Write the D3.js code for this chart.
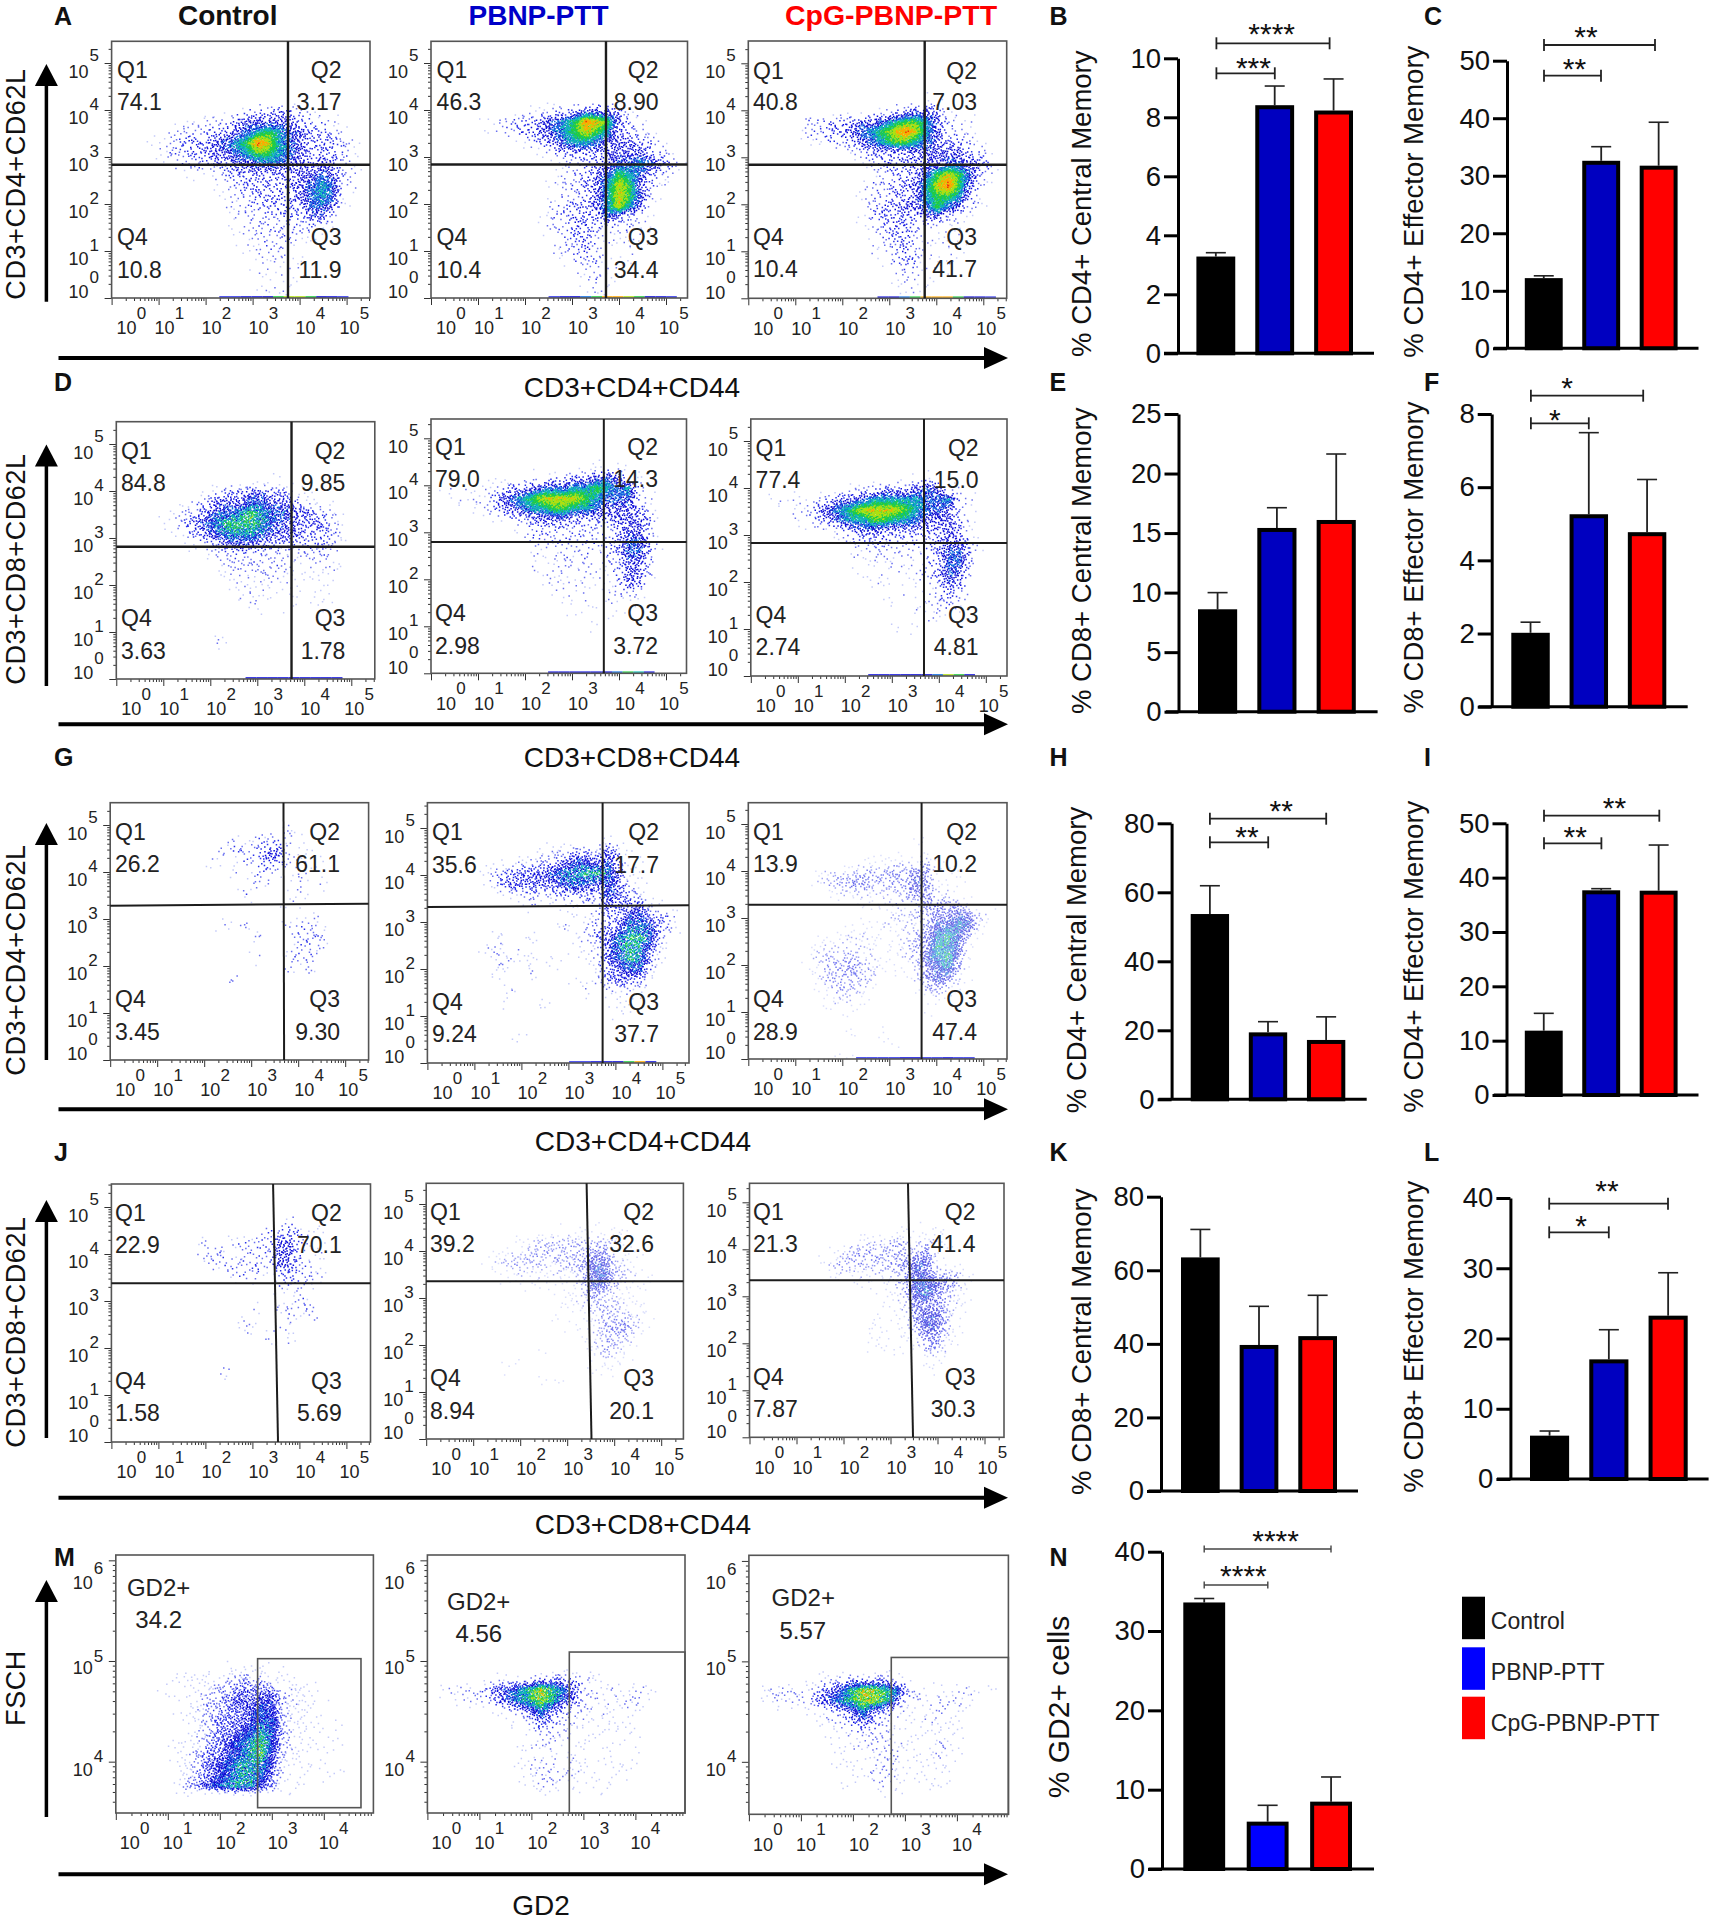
<!DOCTYPE html>
<html><head><meta charset="utf-8">
<script src="https://cdn.jsdelivr.net/npm/d3@7"></script>
<style>html,body{margin:0;background:#fff}svg{display:block}text{font-family:"Liberation Sans",Arial,sans-serif}</style>
</head><body><svg id="c" width="1713" height="1920" viewBox="0 0 1713 1920"></svg>
<script>
// ---------- bar chart values ----------
const groups = ["Control","PBNP-PTT","CpG-PBNP-PTT"];
const valB=[3.28,8.41,8.23], errB=[3.41,9.06,9.3];
const valC=[12.2,32.6,31.75], errC=[12.6,35.05,39.3];
const valE=[8.6,15.43,16.1], errE=[10,17.13,21.64];
const valF=[2.02,5.26,4.77], errF=[2.31,7.49,6.21];
const valH=[53.7,19.4,17.2], errH=[61.9,22.5,23.9];
const valI=[11.84,37.67,37.6], errI=[15.03,37.97,46.0];
const valK=[63.5,39.7,42.1], errK=[71.1,50.2,53.2];
const valL=[6.17,17.03,23.25], errL=[6.83,21.25,29.36];
const valN=[33.6,5.97,8.49], errN=[34.1,8.03,11.6];
// ---------- quadrant percentages ----------
const pctA=[["74.1","3.17","11.9","10.8"],["46.3","8.90","34.4","10.4"],["40.8","7.03","41.7","10.4"]];
const pctD=[["84.8","9.85","1.78","3.63"],["79.0","14.3","3.72","2.98"],["77.4","15.0","4.81","2.74"]];
const pctG=[["26.2","61.1","9.30","3.45"],["35.6","17.7","37.7","9.24"],["13.9","10.2","47.4","28.9"]];
const pctJ=[["22.9","70.1","5.69","1.58"],["39.2","32.6","20.1","8.94"],["21.3","41.4","30.3","7.87"]];
const pctM=["34.2","4.56","5.57"];
// ---------- density maps (0 empty .. 9 hottest); rows from top, first row index given ----------
const dA1=[6,"000000000001223332100000","000000111223444443221000","000011222334567654332100","000112333456798654333210","000012233445677654333210","000001222334455544343210","000000011123333334454210","000000000112333334565210","000000000012233334565100","000000000011223333554100","000000000001222232441000","000000000001122222211000","000000000001122221100000","000000000000112211000000","000000000000011211000000","000000000000011111000000","000000000000001110000000","000000000000011110000000"];
const dA2=[5,"000000000000000100000000","000000000112234443110000","000011223345679874210000","000001123345678763321000","000000001234566544433100","000000000012333344443210","000000000000122345565431","000000000001223457653210","000000000001223468742100","000000000001223468752100","000000000012233468641000","000000000012233353211000","000000000012233212211000","000000000001233211110000","000000000001223211110000","000000000000122211100000","000000000000011211000000","000000000000001210000000","000000000000001110000000"];
const dA3=[5,"000000000000000011000000","000000000001123443110000","000002233344567764211000","000012233456789864221000","000001122345677654332100","000000000123333444443210","000000000012333344554420","000000000001223357875210","000000000012233468974200","000000000012233467763100","000000000012334457542100","000000000012333334211000","000000000001233211110000","000000000001233211110000","000000000001123211110000","000000000000123211110000","000000000000012211100000","000000000000011110000000","000000000000001100000000"];
const dD1=[5,"000000000000001000000000","000000001233443311100000","000000123444554431110000","000011234556765544321000","000012345677765443432000","000001234566654443332000","000000112344433332331000","000000001222222212221000","000000000122222211121000","000000000112122111111000","000000000011111110110000","000000000001211010110000","000000000000110010100000","000000000000000100000000","000000000000000000000000","000000000200000000000000"];
const dD2=[4,"000000000000000111000000","000000000112233454110000","011111233455566765621000","011112456788887655521000","000112345667766544431000","000000122344433334443000","000000001222222213442000","000000001222222223553000","000000000111212123553100","000000000111212122442000","000000000112112112442000","000000000011111112431000","000000000001101012210000","000000000000111011100000","000000000000010110000000","000000000000000100000000"];
const dD3=[5,"000000000000000111000000","000000000122333454110000","011111234456666655621000","000112456788887655421000","000012345667766544431000","000000012344333333431000","000000001222322223442000","000000000112212123553100","000000000111111123552000","000000000011111123541000","000000000001101112431000","000000000000101012321000","000000000000010112210000","000000000000000111000000","000000000000010100000000"];
const dG1=[2,"000000000000000020000000","000000000002022211000000","000000000022224411100000","000000000200223321110000","000000000002022101100000","000000000000022002020000","000000000000200011000000","000000000000000011100000","000000000000000000020000","000000000020200022210000","000000000000020002220000","000000000000000002220000","000000000000020022200000","000000000000000020200000","000000000002000000000000"];
const dG2=[3,"000000000000000020000000","000000000012233243100000","000000012233455453110000","000002334445667764110000","000001344444565454210000","000000122323333354320000","000000000200112243442100","000000000000111233553320","000000000000202334665320","000000200200012346775200","000002202000011246764100","000000220202001245763100","000000200200000234552000","000000000000011234331000","000000020000002021210000","000000200020000011100000","000000000000000002000000","000000000000000000000000","000000002000000000000000"];
const dG3=[3,"000000000000000100000000","000000000000000010000000","000000000011122231100000","000000122233343441110000","000000233443333541110000","000000012222223442200000","000000000011122244331000","000000000011122334454210","000000001111222235565200","000000111222112346753000","000000222221112347651000","000001233322112356741000","000001233432111245631000","000000233332001245421000","000000123321000133210000","000000012210000011000000","000000011100000010000000","000000000000000000000000","000000000100100000000000","000000000000110000000000","000000001100000000000000"];
const dJ1=[3,"000000000000000020000000","000000000000012232110000","000000002002222442110000","000000002220222442110000","000000000222222442110000","000000000002220232210000","000000000000000222100000","000000000000000002000000","000000000000020222200000","000000000000200020200000","000000000000200200000000","000000000000002020000000","000000000000000000000000","000000000000000000000000","000000000020000000000000"];
const dJ2=[4,"000000000001111111100000","000000001233333332100000","000000122333333442110000","000001233332334553210000","000000112222223563321000","000000011111113553211000","000000000000112432110000","000000000000122333211000","000000000001101233321000","000000000000101234431000","000000000000001233310000","000000000010000233210000","000000001000000122100000","000000010000000111000000","000000000010100010000000"];
const dJ3=[4,"000000000000001111000000","000000000122233132100000","000000012333333342100000","000000123333334552110000","000000012222233553331000","000000000111123565431000","000000000000113564321000","000000000000112444321000","000000000000112455310000","000000000002101355310000","000000000001112244210000","000000000001110134210000","000000000000001012100000","000000000000000011000000"];
const dM1=[10,"000000000011111100000000","000001122233331111000000","000011122334444221100000","000001123345455322110000","000001123344565322100000","000000123444566322101000","000000123445676321110000","000001123456786321111000","000001234456785321110000","000000234567775211110000","000001234567764211011000","000001345677754111000000"];
const dM2=[11,"000000111233332100000000","012223456787642212121000","001222456787542211221000","000000123464322121110000","000000011243221111100000","000000000122211111110000","000000000122111111010000","000000001111111011010000","000000001222121111110000","000000001122221101100000","000000000122111110000000"];
const dM3=[11,"000000122333321000000000","112222345788763211112010","012222456788752212221000","000001123464321112110000","000000122343211121110000","000000011222211111110000","000000011122221112100000","000000011111221112110000","000000001112211111100000","000000000112221111100000","000000001001211011000000"];
// on-axis events along the lower edge
const edgeA1="000000000011223677632100",edgeA2="000000000001234688763210",edgeA3="000000000000234688863210",edgeD1="000000000000222222222000",edgeD2="000000000002222234652000",edgeD3="000000000002223334762000",edgeG2="000000000000011223682000",edgeG3="000000000011112211211000",edgeNone="000000000000000000000000";

const svg=d3.select("#c");
const INK="#222";
const levelAcc=[0,.02,.045,.085,.17,.34,.7,1,1,1];
const palette=["#c4caf9","#6a70f0","#2a30ea","#1010dc","#0808d0","#0a6ae0","#08b8b0","#20cc40","#b0e010","#ffa800","#f03000"];
function colorIndex(d){ return Math.max(0,Math.min(10,Math.round(d))); }
function halton(i,b){let f=1,r=0;while(i>0){f/=b;r+=f*(i%b);i=Math.floor(i/b);}return r;}
function sampler(g){
  const start=g[0],rows=g.slice(1);
  const at=(r,c)=>{const s=rows[r-start];if(!s||c<0||c>23)return 0;return +s[c]||0;};
  return (u,v)=>{
    const x=u*24-.5,y=v*24-.5,x0=Math.floor(x),y0=Math.floor(y),fx=x-x0,fy=y-y0;
    return at(y0,x0)*(1-fx)*(1-fy)+at(y0,x0+1)*fx*(1-fy)+at(y0+1,x0)*(1-fx)*fy+at(y0+1,x0+1)*fx*fy;
  };
}
function txt(s,x,y,size,opt={}){
  return svg.append("text").attr("x",x).attr("y",y).attr("font-size",size)
   .attr("text-anchor",opt.anchor||"start").attr("font-weight",opt.weight||"normal")
   .attr("fill",opt.fill||"#111").text(s);
}
function vtxt(s,x,cy,size,ls){
  svg.append("text").attr("transform",`translate(${x},${cy}) rotate(-90)`).attr("font-size",size)
   .attr("text-anchor","middle").attr("fill","#111").attr("dy",".36em").attr("letter-spacing",ls||0).text(s);
}
function ctext(g,s,x,cy,size,anchor){
  g.append("text").attr("x",x).attr("y",cy).attr("dy",".36em").attr("font-size",size)
   .attr("text-anchor",anchor||"start").attr("fill",INK).text(s);
}
function minorTicks(minDec,maxDec){
  const out=[];
  for(let k=Math.floor(minDec);k<=Math.ceil(maxDec);k++)for(let m=1;m<10;m++){
    const v=m*Math.pow(10,k),l=Math.log10(v);
    if(l>=minDec-1e-6&&l<=maxDec+1e-6)out.push(v);
  }
  return out;
}
svg.append("defs").append("filter").attr("id","soft").append("feGaussianBlur").attr("stdDeviation",.42);

function flowFrame(b,xs,ys){
  const [x0,y0,x1,y1]=b;
  const g=svg.append("g");
  const isMajor=v=>Math.abs(Math.log10(v)-Math.round(Math.log10(v)))<1e-6;
  const ax=g.append("g").attr("transform",`translate(0,${y1})`)
    .call(d3.axisBottom(xs).tickValues(minorTicks(0,Math.log10(xs.domain()[1]))).tickFormat("").tickSize(3));
  const ay=g.append("g").attr("transform",`translate(${x0},0)`)
    .call(d3.axisLeft(ys).tickValues(minorTicks(Math.log10(ys.domain()[0]),Math.log10(ys.domain()[1]))).tickFormat("").tickSize(3));
  ax.select(".domain").remove();ay.select(".domain").remove();
  ax.selectAll("line").attr("stroke","#333").attr("y2",d=>isMajor(d)?7:3);
  ay.selectAll("line").attr("stroke","#333").attr("x2",d=>isMajor(d)?-7:-3);
  return g;
}
function dots(b,xs,ys,dx,dy,grid,seed,op,grain,cool){
  const [x0,y0,x1,y1]=b, f=sampler(grid), w=x1-x0, h=y1-y0;
  const N=Math.round(w*h*1.05), buckets=d3.range(11).map(()=>[]);
  const yMin=Math.log10(ys.domain()[0]);
  for(let i=1;i<=N;i++){
    const k=i+seed*4099;
    const u=halton(k,2),v=halton(k,3);
    const d=f(u,v);
    if(d<.15)continue;
    const t=halton(k,5),lo=Math.floor(d),fr=d-lo;
    let acc=levelAcc[lo]*(1-fr)+(levelAcc[lo+1]===undefined?1:levelAcc[lo+1])*fr;
    acc=Math.min(acc,grain);
    if(t>acc)continue;
    const jitter=(halton(k,7)-.5)*(d>4?(grain<1?3:1.9):1.1);
    const shade=d<6?d-.6:d-.6+(d-6)*.25;
    const c=colorIndex(shade+jitter-cool);
    buckets[c].push([xs(Math.pow(10,u*dx)),ys(Math.pow(10,yMin+(1-v)*dy))]);
  }
  const g=svg.append("g").attr("filter","url(#soft)").attr("opacity",op);
  g.selectAll("path").data(buckets.map((p,i)=>({p,i})).filter(e=>e.p.length)).join("path")
   .attr("fill","none").attr("stroke-width",1.5).attr("stroke",e=>palette[e.i])
   .attr("d",e=>e.p.map(q=>`M${q[0].toFixed(1)} ${q[1].toFixed(1)}h1.5`).join(""));
}
function edgeStrip(b,xs,dx,edge){
  const y1=b[3];
  const cells=[...edge].map((c,i)=>({l:+c,i})).filter(e=>e.l>0);
  svg.append("g").selectAll("rect").data(cells).join("rect")
   .attr("x",e=>xs(Math.pow(10,e.i/24*dx))).attr("width",e=>xs(Math.pow(10,(e.i+1)/24*dx))-xs(Math.pow(10,e.i/24*dx)))
   .attr("y",y1-2).attr("height",2).attr("fill",e=>palette[e.l+1]).attr("opacity",.8);
}
function tickLabels(b,xs,ys,xDecs,xOff,yDecs,yOff,supOff){
  const [x0,y0,x1,y1]=b,g=svg.append("g");
  xDecs.forEach((k,i)=>{
    const cx=xs(Math.pow(10,k))+xOff[i];
    ctext(g,"10",cx,y1+30,18,"middle");
    ctext(g,String(k),cx+15,y1+15,17,"middle");
  });
  yDecs.forEach((k,i)=>{
    const ty=ys(Math.pow(10,k));
    ctext(g,"10",x0-23,ty+yOff[i],18,"end");
    ctext(g,String(k),x0-22,ty+supOff[i],17,"start");
  });
}
const Dec=47;
function quadPanel(p){
  const b=p.box,[x0,y0,x1,y1]=b,dx=(x1-x0)/Dec,dy=(y1-y0)/Dec;
  const xs=d3.scaleLog().domain([1,Math.pow(10,dx)]).range([x0,x1]);
  const ys=d3.scaleLog().domain([1,Math.pow(10,dy)]).range([y1,y0]);
  dots(b,xs,ys,dx,dy,p.grid,p.seed,p.op||1,p.grain||1,p.cool||0);
  edgeStrip(b,xs,dx,p.edge);
  flowFrame(b,xs,ys);
  svg.append("rect").attr("x",x0).attr("y",y0).attr("width",x1-x0).attr("height",y1-y0)
    .attr("fill","none").attr("stroke","#555").attr("stroke-width",1.6);
  const gate=svg.append("g").attr("stroke","#1c1c1c").attr("stroke-width",p.gw||2);
  gate.append("line").attr("x1",xs(Math.pow(10,p.gx[0]))).attr("x2",xs(Math.pow(10,p.gx[1]))).attr("y1",y0).attr("y2",y1);
  gate.append("line").attr("x1",x0).attr("x2",x1).attr("y1",ys(Math.pow(10,p.gy[0]))).attr("y2",ys(Math.pow(10,p.gy[1])));
  tickLabels(b,xs,ys,[0,1,2,3,4,5],[15,6,6,6,6,3],[0,1,2,3,4,5],[-6,7.5,7.5,7.5,7.5,8.5],[-21,-6,-6,-6,-6,-8]);
  const g=svg.append("g"),L=p.left,R=p.right,[a,c,d,e]=p.ty,fs=23;
  ctext(g,"Q1",L,a,fs);ctext(g,"Q2",R,a,fs,"end");
  ctext(g,p.pct[0],L,c,fs);ctext(g,p.pct[1],R,c,fs,"end");
  ctext(g,"Q4",L,d,fs);ctext(g,"Q3",R,d,fs,"end");
  ctext(g,p.pct[3],L,e,fs);ctext(g,p.pct[2],R,e,fs,"end");
}
const quadPanels=[
 {box:[111.6,41.3,370,298],grid:dA1,edge:edgeA1,gx:[3.753,3.753],gy:[2.836,2.836],pct:pctA[0],left:117,right:341.5,ty:[70,102,237,270],gw:2.4},
 {box:[431,41.3,687.5,298],grid:dA2,edge:edgeA2,gx:[3.723,3.723],gy:[2.84,2.84],pct:pctA[1],left:436.6,right:658.5,ty:[70,102,237,270],gw:2.4},
 {box:[748.3,41,1006.7,298.3],grid:dA3,edge:edgeA3,gx:[3.753,3.753],gy:[2.843,2.843],pct:pctA[2],left:753,right:977,ty:[70.7,102,237,269],gw:2.4},
 {box:[116.3,421.7,374.8,679],grid:dD1,edge:edgeD1,gx:[3.728,3.728],gy:[2.815,2.815],pct:pctD[0],left:121,right:345.4,ty:[450.7,483,618,651],gw:2.4,grain:.5,cool:.3},
 {box:[431,419,686.5,673.3],grid:dD2,edge:edgeD2,gx:[3.677,3.677],gy:[2.794,2.794],pct:pctD[1],left:435,right:658,ty:[447,479,613,645.7]},
 {box:[750.8,419,1007,676],grid:dD3,edge:edgeD3,gx:[3.685,3.685],gy:[2.83,2.83],pct:pctD[2],left:755.6,right:978.6,ty:[448,480,615,647]},
 {box:[110.2,802.7,368.6,1060],grid:dG1,edge:edgeNone,gx:[3.687,3.7],gy:[3.283,3.326],pct:pctG[0],left:115,right:340,ty:[831.7,864,999,1031.7]},
 {box:[427.4,802.7,689,1063],grid:dG2,edge:edgeG2,gx:[3.728,3.728],gy:[3.32,3.355],pct:pctG[1],left:432,right:659,ty:[832,864.7,1001.7,1034],grain:.38,cool:.6},
 {box:[748.3,802.7,1007,1059],grid:dG3,edge:edgeG3,gx:[3.687,3.687],gy:[3.283,3.283],pct:pctG[2],left:753,right:977,ty:[831.7,864,999,1031.7],op:.62,grain:.55,cool:.7},
 {box:[111.4,1184,370.5,1442],grid:dJ1,edge:edgeNone,gx:[3.44,3.545],gy:[3.377,3.377],pct:pctJ[0],left:115,right:341.7,ty:[1212.7,1245,1380.7,1413]},
 {box:[426.2,1183.3,683.4,1439],grid:dJ2,edge:edgeNone,gx:[3.413,3.517],gy:[3.355,3.355],pct:pctJ[1],left:430,right:654,ty:[1211.7,1244,1378,1410.7],op:.62,grain:.4,cool:1},
 {box:[749.5,1183.3,1004,1437.3],grid:dJ3,edge:edgeNone,gx:[3.372,3.479],gy:[3.34,3.34],pct:pctJ[2],left:753,right:975.5,ty:[1211.7,1244,1376.7,1409],op:.7,grain:.4,cool:1}
];
quadPanels.forEach((p,i)=>quadPanel({...p,seed:i+1}));

function gd2Panel(p){
  const b=p.box,[x0,y0,x1,y1]=b,dx=(x1-x0)/52;
  const xs=d3.scaleLog().domain([1,Math.pow(10,dx)]).range([x0,x1]);
  const ys=d3.scaleLog().domain(p.yDom.map(e=>Math.pow(10,e))).range([y1,y0]);
  dots(b,xs,ys,dx,p.yDom[1]-p.yDom[0],p.grid,p.seed,1,p.grain,p.cool);
  flowFrame(b,xs,ys);
  svg.append("rect").attr("x",x0).attr("y",y0).attr("width",x1-x0).attr("height",y1-y0)
    .attr("fill","none").attr("stroke","#555").attr("stroke-width",1.6);
  const gl=xs(Math.pow(10,p.gate[0])),gr=p.gate[1]?xs(Math.pow(10,p.gate[1])):x1,
        gt=ys(Math.pow(10,p.gate[2])),gb=p.gate[3]?ys(Math.pow(10,p.gate[3])):y1;
  svg.append("rect").attr("x",gl).attr("y",gt).attr("width",gr-gl).attr("height",gb-gt)
    .attr("fill","none").attr("stroke","#555").attr("stroke-width",1.6);
  tickLabels(b,xs,ys,[0,1,2,3,4],[14,5,6,6,5],[4,5,6],[7.5,7,21.7],[-5.5,-5,8]);
  const g=svg.append("g");
  ctext(g,"GD2+",p.t[0],p.t[1],24);
  ctext(g,p.pct,p.t[2],p.t[3],24);
}
[
 {box:[115.8,1555,373.4,1813],grid:dM1,yDom:[3.49,6.053],gate:[2.727,4.715,5.023,3.543],pct:pctM[0],t:[126.9,1587,135.3,1619],grain:.5,cool:1.3},
 {box:[427.4,1555,685,1813],grid:dM2,yDom:[3.49,6.053],gate:[2.729,0,5.089,0],pct:pctM[1],t:[447,1601,455.4,1633],grain:.6,cool:.5},
 {box:[748.9,1555.3,1008.4,1814.3],grid:dM3,yDom:[3.4775,6.056],gate:[2.738,0,5.039,0],pct:pctM[2],t:[771.6,1597,779.4,1630],grain:.6,cool:.5}
].forEach((p,i)=>gd2Panel({...p,seed:i+20}));

// ---------- bars ----------
function barPanel(p){
  const y=d3.scaleLinear().domain([0,p.max]).range([p.y0,p.yt]);
  const x=d3.scaleBand().domain(groups).range([p.b0,p.b1]).paddingInner(.34).paddingOuter(0);
  const g=svg.append("g");
  const sw=4, fills=[ "#000", p.blue||"#0000c0", "#ff0000"];
  const rows=groups.map((k,i)=>({k,i,v:p.val[i],e:p.err[i]}));
  g.selectAll(".stem").data(rows).join("line").attr("class","stem")
   .attr("x1",d=>x(d.k)+x.bandwidth()/2).attr("x2",d=>x(d.k)+x.bandwidth()/2)
   .attr("y1",d=>y(d.v)).attr("y2",d=>y(d.e)).attr("stroke","#222").attr("stroke-width",1.8);
  g.selectAll(".cap").data(rows).join("line").attr("class","cap")
   .attr("x1",d=>x(d.k)+x.bandwidth()/2-10).attr("x2",d=>x(d.k)+x.bandwidth()/2+10)
   .attr("y1",d=>y(d.e)).attr("y2",d=>y(d.e)).attr("stroke","#222").attr("stroke-width",1.6);
  g.selectAll(".bar").data(rows).join("rect").attr("class","bar")
   .attr("x",d=>x(d.k)+sw/2).attr("width",x.bandwidth()-sw)
   .attr("y",d=>y(d.v)+sw/2).attr("height",d=>y(0)-y(d.v)-sw/2)
   .attr("fill",d=>fills[d.i]).attr("stroke","#000").attr("stroke-width",sw);
  const ax=g.append("g").attr("transform",`translate(${p.ax},0)`)
   .call(d3.axisLeft(y).tickValues(d3.range(0,p.max+1e-6,p.step)).tickSizeInner(14).tickSizeOuter(0).tickPadding(3).tickFormat(d3.format("d")));
  ax.selectAll("line").attr("stroke","#000").attr("stroke-width",3);
  ax.select(".domain").attr("stroke","#000").attr("stroke-width",3);
  ax.selectAll("text").attr("font-size",27.5).attr("font-family","Liberation Sans").attr("fill","#111");
  g.append("line").attr("x1",p.bl[0]).attr("x2",p.bl[1]).attr("y1",y(0)).attr("y2",y(0)).attr("stroke","#000").attr("stroke-width",3);
  vtxt(p.title,p.tx,p.ty,p.tfs||27.5);
  (p.sig||[]).forEach(s=>{
    const sg=svg.append("g").attr("stroke",p.sigColor||"#222").attr("stroke-width",p.sigW||1.8);
    const h=p.sigH||6;
    sg.append("line").attr("x1",s.a).attr("x2",s.b).attr("y1",s.y).attr("y2",s.y);
    sg.append("line").attr("x1",s.a).attr("x2",s.a).attr("y1",s.y-h).attr("y2",s.y+h);
    sg.append("line").attr("x1",s.b).attr("x2",s.b).attr("y1",s.y-h).attr("y2",s.y+h);
    txt(s.s,s.cx,s.cy+16,30,{anchor:"middle",fill:"#111"});
  });
}
const barPanels=[
 {val:valB,err:errB,max:10,step:2,y0:353.3,yt:58.3,ax:1178,b0:1196.4,b1:1353,bl:[1164,1374],title:"% CD4+  Central Memory",tx:1081.4,ty:203.7,
  sig:[{s:"****",a:1216.4,b:1329.6,y:43.3,cx:1271.7,cy:28},{s:"***",a:1216.4,b:1274.8,y:73.3,cx:1253.4,cy:62}]},
 {val:valC,err:errC,max:50,step:10,y0:348.3,yt:60.7,ax:1507,b0:1524.8,b1:1677.6,bl:[1493.8,1698.5],title:"% CD4+  Effector Memory",tx:1413,ty:201.7,
  sig:[{s:"**",a:1544,b:1655,y:45,cx:1586,cy:31},{s:"**",a:1544,b:1601,y:75.7,cx:1574.4,cy:63.3}]},
 {val:valE,err:errE,max:25,step:5,y0:711.7,yt:414,ax:1178.5,b0:1198,b1:1355.8,bl:[1165.9,1377.6],title:"% CD8+  Central Memory",tx:1081.4,ty:560.8},
 {val:valF,err:errF,max:8,step:2,y0:706.7,yt:414,ax:1491.7,b0:1511.3,b1:1666.3,bl:[1478.6,1687.7],title:"% CD8+  Effector Memory",tx:1413,ty:557.5,
  sig:[{s:"*",a:1530.9,b:1643.2,y:395.7,cx:1567,cy:382},{s:"*",a:1530.9,b:1588.8,y:423.3,cx:1554.8,cy:414.3}]},
 {val:valH,err:errH,max:80,step:20,y0:1099.3,yt:823.3,ax:1171.6,b0:1190.7,b1:1345.3,bl:[1158.5,1366.7],title:"% CD4+ Central Memory",tx:1075.7,ty:960,
  sig:[{s:"**",a:1209.9,b:1326.2,y:818.7,cx:1281.3,cy:805},{s:"**",a:1209.9,b:1268.2,y:842.3,cx:1246.9,cy:830.7}]},
 {val:valI,err:errI,max:50,step:10,y0:1095,yt:823.3,ax:1506.5,b0:1524.8,b1:1677.6,bl:[1493.8,1698.5],title:"% CD4+  Effector Memory",tx:1413,ty:956.7,
  sig:[{s:"**",a:1544,b:1659.3,y:815.7,cx:1614.5,cy:801.7},{s:"**",a:1544,b:1601.4,y:843.3,cx:1575.3,cy:831}]},
 {val:valK,err:errK,max:80,step:20,y0:1491,yt:1196.7,ax:1161,b0:1181,b1:1337,bl:[1148.5,1358],title:"% CD8+  Central Memory",tx:1081.4,ty:1341.7},
 {val:valL,err:errL,max:40,step:10,y0:1479,yt:1198,ax:1510.4,b0:1530,b1:1687.7,bl:[1497,1708.6],title:"% CD8+  Effector Memory",tx:1413,ty:1336.7,
  sig:[{s:"**",a:1549.2,b:1668,y:1203.7,cx:1607,cy:1185},{s:"*",a:1549.2,b:1608.8,y:1232.3,cx:1581,cy:1220}]},
 {val:valN,err:errN,max:40,step:10,y0:1869,yt:1551.7,ax:1162,b0:1183.3,b1:1352,bl:[1148.5,1374],title:"% GD2+ cells",tx:1058.3,ty:1707,tfs:30,blue:"#0000ff",sigColor:"#444",sigW:1.4,sigH:3.5,
  sig:[{s:"****",a:1204.2,b:1331,y:1549,cx:1275.6,cy:1535},{s:"****",a:1204.2,b:1267.8,y:1585,cx:1243.4,cy:1570}]}
];
barPanels.forEach(barPanel);

// ---------- headers, panel letters, axis titles ----------
txt("Control",227.7,25,28,{anchor:"middle",weight:"bold"});
txt("PBNP-PTT",538.5,25,28,{anchor:"middle",weight:"bold",fill:"#0000c8"});
txt("CpG-PBNP-PTT",891,25,28.5,{anchor:"middle",weight:"bold",fill:"#ff0000"});
const letters=[["A",54,16],["D",54,381.7],["G",54,757],["J",54,1151.7],["M",54,1556.7],["B",1049.6,16],["C",1424,16],["E",1049.6,381.7],["F",1424,381.7],["H",1049.6,756.7],["I",1424,756.7],["K",1049.6,1151.7],["L",1424,1151.7],["N",1049.6,1556.7]];
letters.forEach(([s,x,y])=>txt(s,x,y+9,25,{weight:"bold"}));
[["CD3+CD4+CD62L",184],["CD3+CD8+CD62L",569],["CD3+CD4+CD62L",960],["CD3+CD8+CD62L",1332],["FSCH",1688]].forEach(([s,y])=>vtxt(s,15,y,27,.6));
[["CD3+CD4+CD44",632,397],["CD3+CD8+CD44",632,767],["CD3+CD4+CD44",643,1151],["CD3+CD8+CD44",643,1534],["GD2",541,1915]].forEach(([s,x,y])=>txt(s,x,y,28,{anchor:"middle"}));
// arrows
const ar=svg.append("g");
[[64,301.7],[444.5,686],[823,1060],[1200,1438],[1580,1817]].forEach(([t,b])=>{
  ar.append("line").attr("x1",46.4).attr("x2",46.4).attr("y1",t+15).attr("y2",b).attr("stroke","#000").attr("stroke-width",3.5);
  ar.append("path").attr("d",`M46.4 ${t}l11.5 22h-23z`).attr("fill","#000");
});
[358,724.3,1109.3,1497.7,1874.3].forEach(y=>{
  ar.append("line").attr("x1",58.5).attr("x2",990).attr("y1",y).attr("y2",y).attr("stroke","#000").attr("stroke-width",4);
  ar.append("path").attr("d",`M1008 ${y}l-24 -11v22z`).attr("fill","#000");
});
// legend
const legFill=["#000","#0000ff","#ff0000"],legY=[1596.7,1647.3,1696.7],legT=[1621,1671.7,1722.3];
const leg=svg.append("g");
leg.selectAll("rect").data(groups).join("rect").attr("x",1462).attr("width",23).attr("height",42.5)
  .attr("y",(d,i)=>legY[i]).attr("fill",(d,i)=>legFill[i]);
groups.forEach((s,i)=>ctext(leg,s,1490.8,legT[i],23));
</script></body></html>
